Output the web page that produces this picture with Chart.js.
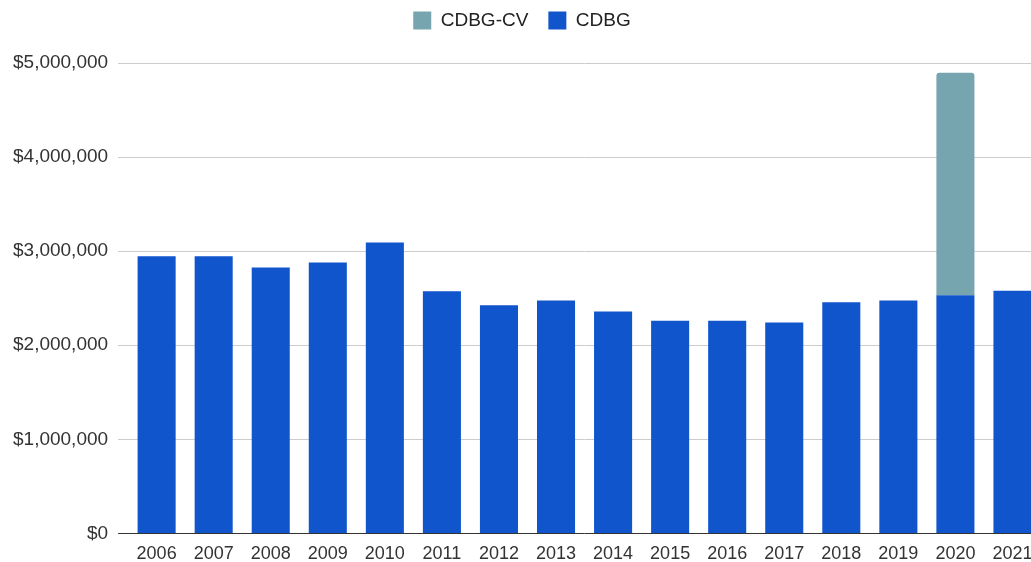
<!DOCTYPE html>
<html>
<head>
<meta charset="utf-8">
<script src="https://cdn.jsdelivr.net/npm/chart.js@4/dist/chart.umd.min.js"></script>
<style>
  html, body { margin: 0; padding: 0; background: #fff; overflow: hidden; }
  #wrap { width: 1041px; height: 562px; }
</style>
</head>
<body>
<div id="wrap"><canvas id="chart"></canvas></div>
<script>
// data
let years = ["2006", "2007", "2008", "2009", "2010", "2011", "2012", "2013",
    "2014", "2015", "2016", "2017", "2018", "2019", "2020", "2021"];
let cdbg = [2947000, 2947000, 2826000, 2880000, 3093000, 2574000, 2426000, 2476000,
    2358000, 2259000, 2259000, 2241000, 2457000, 2476000, 2532000, 2578000];
let cdbgCv = [0, 0, 0, 0, 0, 0, 0, 0, 0, 0, 0, 0, 0, 0, 2365000, 0];
let yTicks = [0, 1000000, 2000000, 3000000, 4000000, 5000000];

Chart.defaults.font.family = "'Liberation Sans', Arial, sans-serif";
Chart.defaults.color = "#333";

// a bit more room under the legend
let legendGap = {
    id: "legendGap",
    beforeInit(chart) {
        let fit = chart.legend.fit;
        chart.legend.fit = function () {
            fit.bind(chart.legend)();
            this.height += 23;
        };
    }
};

let data = {
    labels: years,
    datasets: [{
        label: "CDBG",
        data: cdbg,
        backgroundColor: "#1155cc",
        barPercentage: 1,
        categoryPercentage: 0.667
    }, {
        label: "CDBG-CV",
        data: cdbgCv,
        backgroundColor: "#76a5af",
        borderRadius: { topLeft: 3, topRight: 3 },
        borderSkipped: "bottom",
        barPercentage: 1,
        categoryPercentage: 0.667
    }]
};

let options = {
    responsive: true,
    maintainAspectRatio: false,
    animation: false,
    layout: { padding: { left: 3, top: -9, right: 0, bottom: -5 } },
    plugins: {
        legend: {
            reverse: true,
            labels: {
                boxWidth: 18,
                boxHeight: 18,
                padding: 20,
                color: "#222",
                font: { size: 19 }
            }
        },
        tooltip: { enabled: false }
    },
    scales: {
        x: {
            stacked: true,
            grid: { display: false },
            border: { display: false },
            ticks: { font: { size: 18 }, padding: 2, maxRotation: 0, autoSkip: false }
        },
        y: {
            stacked: true,
            min: 0,
            max: 5000000,
            afterBuildTicks: function (axis) {
                axis.ticks = yTicks.map(v => ({ value: v }));
            },
            border: { display: false },
            grid: {
                color: ctx => ctx.tick && ctx.tick.value === 0 ? "#333" : "#ccc",
                tickLength: 10,
                lineWidth: 1
            },
            ticks: {
                font: { size: 19 },
                padding: 10,
                callback: v => "$" + Number(v).toLocaleString("en-US")
            }
        }
    }
};

new Chart("chart", {
    type: "bar",
    data: data,
    options: options,
    plugins: [legendGap]
});
</script>
</body>
</html>
